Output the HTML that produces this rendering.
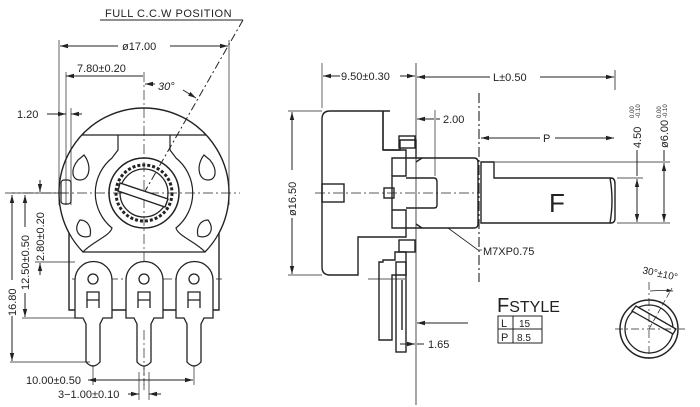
<!DOCTYPE html>
<html><head><meta charset="utf-8"><style>
html,body{margin:0;padding:0;background:#fff;width:700px;height:407px;overflow:hidden}
svg{display:block;font-family:"Liberation Sans",sans-serif;font-size:11px}
text{fill:#222}
</style></head><body>
<svg width="700" height="407" viewBox="0 0 700 407" xmlns="http://www.w3.org/2000/svg">
<defs>
<marker id="a" markerWidth="8" markerHeight="6" refX="8" refY="3" orient="auto-start-reverse"><path d="M0,0.8 L8,3 L0,5.2z" fill="#222"/></marker>
</defs>
<g stroke="#222" fill="none" stroke-width="1">
<!-- FRONT VIEW -->
<line x1="100" y1="20" x2="243" y2="20"/>
<path d="M243,20 L144,193" stroke-dasharray="8,3,2,3"/>
<line x1="144" y1="72" x2="144" y2="385" stroke-dasharray="10,3,2,3" stroke-width="0.7"/>
<line x1="5" y1="193" x2="240" y2="193" stroke-dasharray="10,3,2,3" stroke-width="0.7"/>
<line x1="72" y1="279" x2="222" y2="279" stroke-dasharray="10,3,2,3" stroke-width="0.7"/>
<!-- dims -->
<line x1="59" y1="40" x2="59" y2="205" stroke-width="0.7"/>
<line x1="229" y1="40" x2="229" y2="205" stroke-width="0.7"/>
<line x1="60" y1="46" x2="118" y2="46" marker-start="url(#a)"/>
<line x1="170" y1="46" x2="228" y2="46" marker-end="url(#a)"/>
<line x1="66" y1="76" x2="143" y2="76" marker-start="url(#a)"/>
<line x1="66" y1="72" x2="66" y2="205" stroke-width="0.7"/>
<line x1="145" y1="84" x2="155" y2="84" marker-start="url(#a)"/>
<line x1="183" y1="90" x2="196" y2="98" marker-end="url(#a)"/>
<line x1="47" y1="114" x2="66" y2="114" marker-end="url(#a)"/>
<line x1="71" y1="114" x2="82" y2="114" marker-start="url(#a)"/>
<line x1="71" y1="108" x2="71" y2="205" stroke-width="0.7"/>
<!-- body -->
<path d="M69,233 A85,85 0 1 1 219,233 L219,310 L69,310 Z" stroke-width="1.4"/>
<line x1="82" y1="135" x2="206" y2="135" stroke-width="1.3"/>
<path d="M69,233 A85,85 0 0 0 83,252 L205,252 A85,85 0 0 0 219,233" stroke-width="1.3"/>
<path d="M83,252 C92,242 110,236 112,228 A45,45 0 0 1 112,158 L118,150 L118,135" stroke-width="1.2"/>
<path d="M205,252 C196,242 178,236 176,228 A45,45 0 0 0 176,158 L170,150 L170,135" stroke-width="1.2"/>
<path d="M78,160 C70,170 72,180 80,180 C90,180 92,165 84,155 Z" stroke-width="1.2"/>
<path d="M210,160 C218,170 216,180 208,180 C198,180 196,165 204,155 Z" stroke-width="1.2"/>
<path d="M80,220 C72,230 80,240 90,236 C92,228 88,220 80,220 Z" stroke-width="1.2"/>
<path d="M208,220 C216,230 208,240 198,236 C196,228 200,220 208,220 Z" stroke-width="1.2"/>
<rect x="61" y="180" width="10" height="24" rx="3" stroke-width="1.2"/>
<circle cx="144" cy="193" r="35" stroke-width="1.5"/>
<circle cx="144" cy="193" r="28" stroke-width="3" stroke-dasharray="3,2"/>
<circle cx="144" cy="193" r="24" stroke-width="1.3"/>
<path d="M120,183 L168,199 L165,207 L118,191 Z" stroke-width="1.4" fill="#fff"/>
<!-- terminals -->
<g stroke-width="1.3">
<path d="M75,318 L75,280 A18,18 0 0 1 112,280 L112,318 L103,318 L100,324 L100,362 Q93,370 86,362 L86,324 L83,318 Z" fill="#fff"/>
<path d="M126,318 L126,280 A18,18 0 0 1 163,280 L163,318 L154,318 L151,324 L151,362 Q144,370 137,362 L137,324 L134,318 Z" fill="#fff"/>
<path d="M176,318 L176,280 A18,18 0 0 1 213,280 L213,318 L204,318 L201,324 L201,362 Q194,370 187,362 L187,324 L184,318 Z" fill="#fff"/>
<circle cx="93" cy="279" r="5"/><circle cx="144" cy="279" r="5"/><circle cx="194" cy="279" r="5"/>
<path d="M87,308 L87,292 L99,292 L99,308 M87,300 L99,300"/>
<path d="M138,308 L138,292 L150,292 L150,308 M138,300 L150,300"/>
<path d="M188,308 L188,292 L200,292 L200,308 M188,300 L200,300"/>
</g>
<line x1="144" y1="330" x2="144" y2="390" stroke-dasharray="10,3,2,3" stroke-width="0.7"/>
<!-- left dims -->
<line x1="12" y1="193" x2="66" y2="193" stroke-width="0.7"/>
<line x1="10" y1="362" x2="90" y2="362" stroke-width="0.7"/>
<line x1="22" y1="318" x2="75" y2="318" stroke-width="0.7"/>
<line x1="35" y1="262" x2="75" y2="262" stroke-width="0.7"/>
<line x1="12" y1="195" x2="12" y2="280" marker-start="url(#a)"/>
<line x1="12" y1="316" x2="12" y2="361" marker-end="url(#a)"/>
<line x1="25" y1="195" x2="25" y2="227" marker-start="url(#a)"/>
<line x1="25" y1="293" x2="25" y2="317" marker-end="url(#a)"/>
<line x1="40" y1="180" x2="40" y2="192" marker-end="url(#a)"/>
<line x1="40" y1="263" x2="40" y2="275" marker-start="url(#a)"/>
<line x1="93" y1="365" x2="93" y2="385" stroke-width="0.7"/>
<line x1="194" y1="365" x2="194" y2="385" stroke-width="0.7"/>
<line x1="139" y1="372" x2="139" y2="400" stroke-width="0.7"/>
<line x1="149" y1="372" x2="149" y2="400" stroke-width="0.7"/>
<line x1="88" y1="380" x2="193" y2="380" marker-start="url(#a)" marker-end="url(#a)"/>
<line x1="128" y1="394" x2="139" y2="394" marker-end="url(#a)"/>
<line x1="149" y1="394" x2="161" y2="394" marker-start="url(#a)"/>

<!-- SIDE VIEW -->
<line x1="322" y1="63" x2="322" y2="108" stroke-width="0.7"/>
<line x1="416" y1="63" x2="416" y2="405" stroke-width="0.8"/>
<line x1="615" y1="70" x2="615" y2="90" stroke-width="0.8"/>
<line x1="323" y1="76" x2="340" y2="76" marker-start="url(#a)"/>
<line x1="400" y1="76" x2="415" y2="76" marker-end="url(#a)"/>
<line x1="417" y1="77" x2="490" y2="77" marker-start="url(#a)"/>
<line x1="540" y1="77" x2="614" y2="77" marker-end="url(#a)"/>
<line x1="288" y1="111" x2="322" y2="111" stroke-width="0.7"/>
<line x1="288" y1="275" x2="322" y2="275" stroke-width="0.7"/>
<line x1="292" y1="112" x2="292" y2="170" marker-start="url(#a)"/>
<line x1="292" y1="218" x2="292" y2="274" marker-end="url(#a)"/>
<line x1="315" y1="193" x2="480" y2="193" stroke-dasharray="10,3,2,3" stroke-width="0.7"/>
<line x1="479" y1="93" x2="479" y2="282" stroke-dasharray="10,3,2,3" stroke-width="1.1"/>
<g stroke-width="1.4">
<path d="M390,111 L330,111 Q322,111 322,119 L322,267 Q322,275 330,275 L358,275 L358,237 L406,237 L406,210 L392,210 L392,176 L406,176 L406,150 L383,150 L383,111 L390,111 Z"/>
<rect x="322" y="184" width="22" height="18"/>
<path d="M383,150 L383,111 M383,150 L400,150 L400,140 L416,140 L416,158"/>
<rect x="399" y="136" width="16" height="12"/>
<rect x="399" y="240" width="16" height="12"/>
<path d="M392,176 L392,158 L416,158 M416,228 L392,228 L392,210"/>
<path d="M406,178 L434,178 Q437,178 437,182 L437,205 Q437,208 434,208 L406,208"/>
<rect x="384" y="188" width="10" height="10"/>
<path d="M416,158 L474,158 Q478,158 478,162 L478,224 Q478,228 474,228 L416,228"/>
<path d="M416,162 L422,158 M416,224 L422,228"/>
<path d="M481,162 L494,162 L494,178 L611,178 Q615,178 615,184 L615,218 Q615,223 611,223 L481,223 Z"/>
<path d="M610,178 Q614,200 610,223"/>
<path d="M395,252 L395,260 L383,260 L383,262 L379,262 L379,340 L392,340 L392,275 L406,275 L406,252 Z"/>
<rect x="396" y="262" width="10" height="90"/>
<path d="M402,280 L402,330"/>
<line x1="368" y1="279" x2="405" y2="279" stroke-width="0.8"/>
</g>
<line x1="435" y1="110" x2="435" y2="176" stroke-width="0.7"/>
<line x1="417" y1="119" x2="434" y2="119" marker-start="url(#a)"/>
<line x1="436" y1="119" x2="440" y2="119"/>
<line x1="481" y1="138" x2="540" y2="138" marker-start="url(#a)"/>
<line x1="555" y1="138" x2="614" y2="138" marker-end="url(#a)"/>
<line x1="617" y1="178" x2="643" y2="178" stroke-width="0.7"/>
<line x1="495" y1="162" x2="670" y2="162" stroke-width="0.7"/>
<line x1="617" y1="223" x2="670" y2="223" stroke-width="0.7"/>
<line x1="637" y1="179" x2="637" y2="222" marker-start="url(#a)" marker-end="url(#a)"/>
<line x1="637" y1="150" x2="637" y2="176"/>
<line x1="664" y1="163" x2="664" y2="222" marker-start="url(#a)" marker-end="url(#a)"/>
<line x1="664" y1="150" x2="664" y2="161"/>
<path d="M448,228 L478,250 L482,250" stroke-width="0.8"/>
<line x1="417" y1="323" x2="468" y2="323" marker-start="url(#a)"/>
<line x1="400" y1="344" x2="415" y2="344" marker-end="url(#a)"/>
<line x1="417" y1="344" x2="424" y2="344"/>
<!-- F style table -->
<rect x="498" y="316" width="44" height="27" stroke-width="1"/>
<line x1="498" y1="329" x2="542" y2="329"/>
<line x1="513" y1="316" x2="513" y2="343"/>
<!-- end view -->
<circle cx="649" cy="329" r="29" stroke-width="1.5"/>
<circle cx="649" cy="329" r="24" stroke-width="1.3"/>
<path d="M636,306 L676,329 L673,334 L632,311 Z" fill="#fff" stroke-width="1.3"/>
<line x1="615" y1="329" x2="685" y2="329" stroke-dasharray="8,3,2,3" stroke-width="0.7"/>
<line x1="649" y1="282" x2="649" y2="360" stroke-dasharray="8,3,2,3" stroke-width="0.7"/>
<line x1="649" y1="329" x2="672" y2="288" stroke-dasharray="6,3" stroke-width="0.7"/>
<path d="M650,291 Q663,290 673,291" marker-end="url(#a)" stroke-width="0.8"/>
</g>
<g>
<text x="105" y="17" letter-spacing="0.5">FULL C.C.W POSITION</text>
<text x="122" y="50">ø17.00</text>
<text x="77" y="72">7.80±0.20</text>
<text x="158" y="90" font-style="italic">30°</text>
<text x="17" y="118">1.20</text>
<text transform="translate(16,316) rotate(-90)">16.80</text>
<text transform="translate(29,290) rotate(-90)">12.50±0.50</text>
<text transform="translate(44,261) rotate(-90)">2.80±0.20</text>
<text x="26" y="384">10.00±0.50</text>
<text x="58" y="398">3−1.00±0.10</text>
<text x="341" y="80">9.50±0.30</text>
<text x="493" y="81">L±0.50</text>
<text transform="translate(296,216) rotate(-90)">ø16.50</text>
<text x="443" y="123">2.00</text>
<text x="543" y="142">P</text>
<text x="549" y="212" font-size="26" fill="#333">F</text>
<text x="483" y="255">M7XP0.75</text>
<text x="428" y="348">1.65</text>
<text transform="translate(641,148) rotate(-90)">4.50</text>
<text transform="translate(634,118) rotate(-90)" font-size="6">0.00</text>
<text transform="translate(640,118) rotate(-90)" font-size="6">-0.10</text>
<text transform="translate(668,148) rotate(-90)">ø6.00</text>
<text transform="translate(661,118) rotate(-90)" font-size="6">0.00</text>
<text transform="translate(667,118) rotate(-90)" font-size="6">-0.10</text>
<text x="497" y="312" font-size="20">F<tspan font-size="16">STYLE</tspan></text>
<text x="501" y="327" font-size="11">L</text><text x="519" y="327" font-size="10">15</text>
<text x="501" y="341" font-size="11">P</text><text x="517" y="341" font-size="10">8.5</text>
<text x="642" y="277" font-size="10" transform="rotate(12 660 275)">30°±10°</text>
</g>
</svg>
</body></html>
